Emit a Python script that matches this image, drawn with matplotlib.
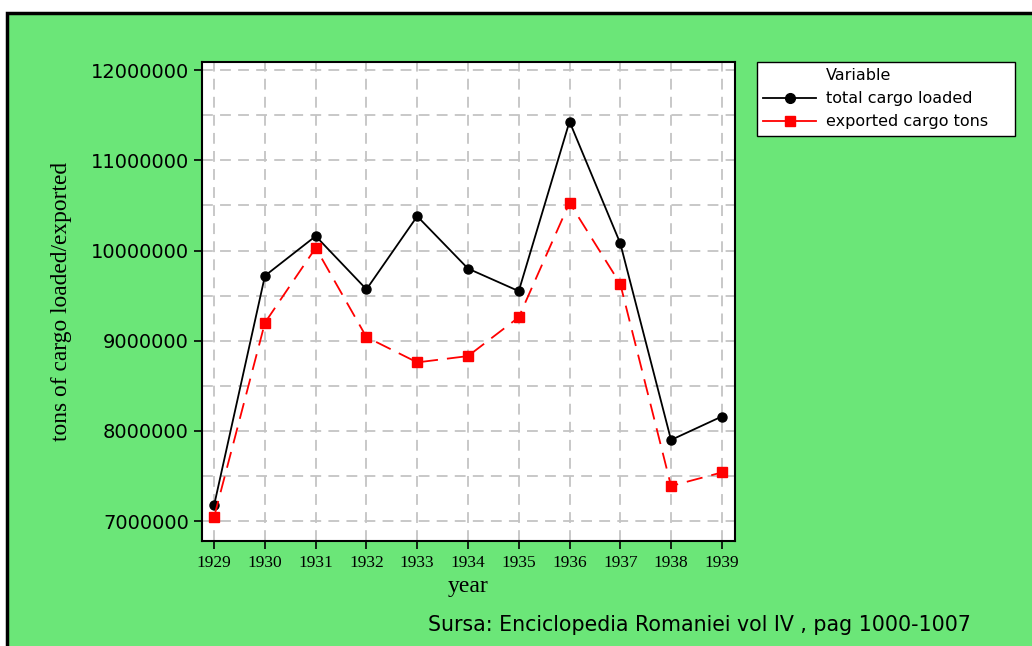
import matplotlib
matplotlib.use("Agg")
import matplotlib.pyplot as plt
from matplotlib.patches import Rectangle
from matplotlib.lines import Line2D
from matplotlib.ticker import MultipleLocator

years = [1929, 1930, 1931, 1932, 1933, 1934, 1935, 1936, 1937, 1938, 1939]
total_loaded = [7180000, 9720000, 10160000, 9570000, 10380000, 9800000, 9550000,
                11430000, 10080000, 7900000, 8160000]
exported = [7050000, 9200000, 10030000, 9040000, 8760000, 8830000, 9260000,
            10530000, 9630000, 7390000, 7540000]
ytick_values = [7000000, 8000000, 9000000, 10000000, 11000000, 12000000]

W, H = 1032, 646
fig = plt.figure(figsize=(W / 100, H / 100), dpi=100)
fig.patch.set_facecolor("white")

green = "#6be678"
bg = Rectangle((7 / W, -0.05), 1.05, (H - 13) / H + 0.05, transform=fig.transFigure,
               facecolor=green, edgecolor="black", linewidth=2.5, zorder=-10)
fig.patches.append(bg)

ax = fig.add_axes([202 / W, 1 - 541 / H, (735 - 202) / W, (541 - 62) / H])
ax.set_facecolor("white")

ax.plot(years, total_loaded, color="black", lw=1.3, marker="o", ms=6.5,
        label="total cargo loaded", zorder=3)
ax.plot(years, exported, color="red", lw=1.3, ls=(0, (9, 5)), marker="s", ms=6.5,
        label="exported cargo tons", zorder=3)

ax.set_xlim(1928.76, 1939.26)
ax.set_ylim(6780000, 12090000)
ax.set_xticks(years)
ax.set_xticklabels([str(y) for y in years], family="Liberation Serif", fontsize=12.5)
ax.set_yticks(ytick_values)
ax.set_yticklabels([str(v) for v in ytick_values], family="DejaVu Sans", fontsize=14)
ax.yaxis.set_minor_locator(MultipleLocator(500000))
ax.tick_params(axis="y", which="minor", length=0)
ax.tick_params(axis="both", which="major", direction="out", length=6, width=1.2,
               color="black")
ax.tick_params(axis="x", pad=4)

gridkw = dict(color="#c4c4c4", lw=1.3, ls=(0, (6, 4)))
ax.grid(True, which="major", axis="both", **gridkw)
ax.grid(True, which="minor", axis="y", **gridkw)
ax.set_axisbelow(True)

for s in ax.spines.values():
    s.set_linewidth(1.5)
    s.set_color("black")

ax.set_xlabel("year", family="Liberation Serif", fontsize=17, labelpad=4)
ax.set_ylabel("tons of cargo loaded/exported", family="Liberation Serif", fontsize=16.8,
              labelpad=13)

blank = Line2D([], [], color="none")
h_total = Line2D([], [], color="black", lw=1.3, marker="o", ms=7)
h_exp = Line2D([], [], color="red", lw=1.3, marker="s", ms=7)
leg = fig.legend([blank, h_total, h_exp],
                 ["Variable", "total cargo loaded", "exported cargo tons    "],
                 loc="upper left",
                 bbox_to_anchor=(757 / W, 1 - 62 / H), borderaxespad=0,
                 frameon=True, fancybox=False, edgecolor="black", framealpha=1,
                 prop={"family": "DejaVu Sans", "size": 11.5},
                 handlelength=3.3, handletextpad=0.6, labelspacing=0.5,
                 borderpad=0.4)
leg.get_frame().set_linewidth(1.0)

fig.text(428 / W, 1 - 625 / H, "Sursa: Enciclopedia Romaniei vol IV , pag 1000-1007",
         family="DejaVu Sans", fontsize=14.8, ha="left", va="center")

fig.savefig("out.png", dpi=100, facecolor=fig.get_facecolor())
